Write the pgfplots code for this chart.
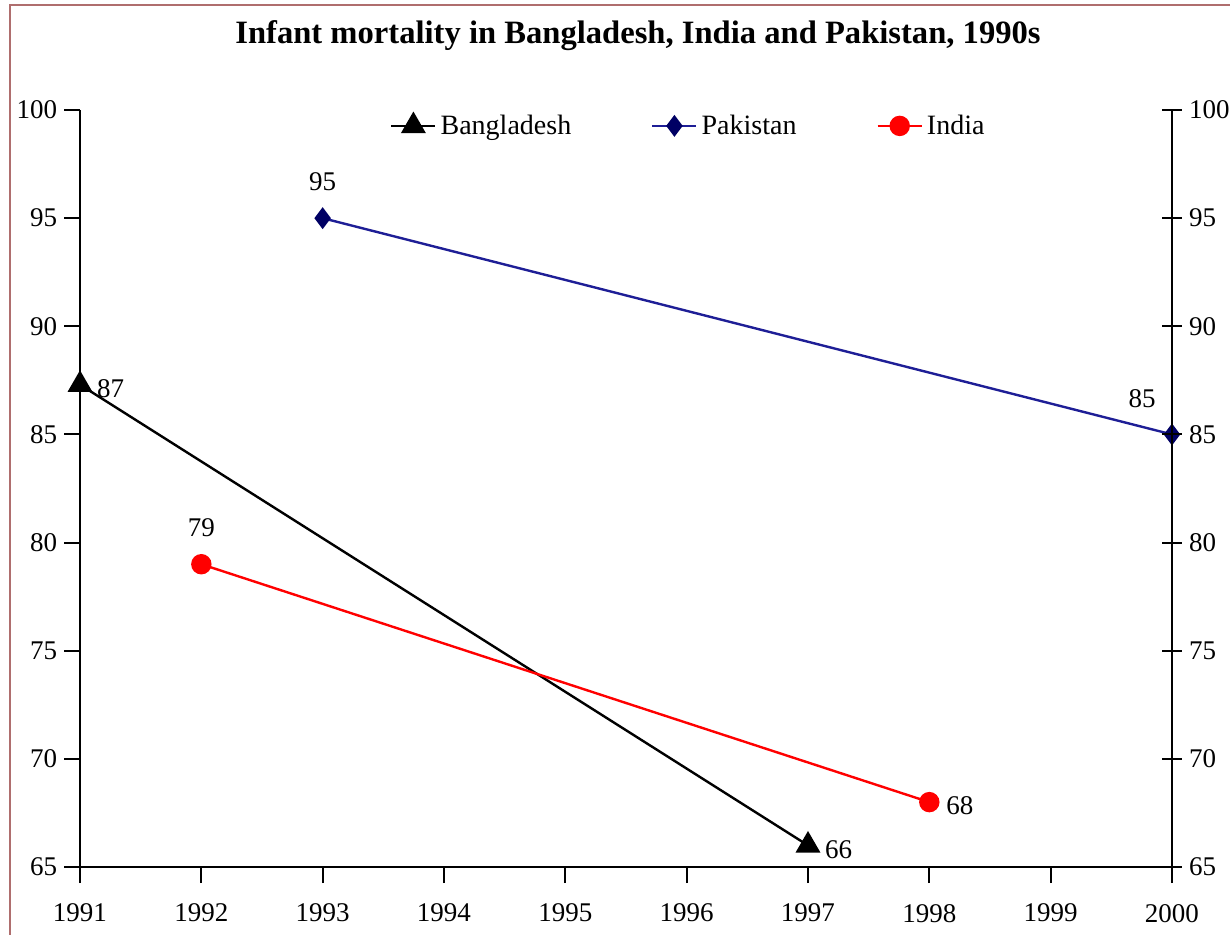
\documentclass[border=0pt]{standalone}
\usepackage{fontspec}
\setmainfont{Liberation Serif}
\usepackage{pgfplots}
\pgfplotsset{compat=1.18}
\definecolor{framec}{RGB}{175,110,110}
\definecolor{pakline}{RGB}{30,30,150}
\definecolor{pakmark}{RGB}{0,0,100}

\begin{document}
\begin{tikzpicture}
% page: 1230x934 px at 0.5pt per px, axis lower-left at px (80,867)
\path[use as bounding box] (-40pt,-33.5pt) rectangle (575pt,433.5pt);
\clip (-40pt,-33.5pt) rectangle (575pt,433.5pt);
\draw[framec, line width=1.2pt] (-35pt,-40pt) -- (-35pt,431pt) -- (580pt,431pt);

\begin{axis}[
    scale only axis,
    width=546pt, height=378.5pt,
    xmin=1991, xmax=2000,
    ymin=65, ymax=100,
    xtick={1991,...,2000},
    ytick={65,70,...,100},
    axis x line*=bottom,
    axis y line*=left,
    axis line style={line width=1pt},
    tick style={black, line width=1pt},
    major tick length=8pt,
    tick align=outside,
    /pgf/number format/1000 sep={},
    /pgf/number format/assume math mode=true,
    tick label style={font=\fontsize{13.5}{15}\selectfont},
    xticklabel style={yshift=-7pt},
    clip=false,
    title={Infant mortality in Bangladesh, India and Pakistan, 1990s},
    title style={font=\bfseries\fontsize{16.3}{19}\selectfont, at={(0.511,1.082)}, anchor=center},
    legend style={draw=none, fill=none, at={(0.558,0.979)}, anchor=center,
        legend columns=-1, font=\fontsize{14}{16}\selectfont,
        /tikz/every even column/.append style={column sep=38pt}},
    legend image code/.code={\draw[mark repeat=2,mark phase=2,#1]
        plot coordinates {(0pt,0pt) (11pt,0pt) (22pt,0pt)};},
    every node near coord/.style={font=\fontsize{13.5}{15}\selectfont, text=black},
]
\addplot[black, line width=1.2pt, mark=triangle*, mark size=6pt]
    coordinates {(1991,87.3) (1997,66)};
\addplot[pakline, line width=1.2pt, mark=diamond*, mark size=4.5pt,
    mark options={fill=pakmark, draw=pakmark}]
    coordinates {(1993,95) (2000,85)};
\addplot[red, line width=1.2pt, mark=*, mark size=4.5pt]
    coordinates {(1992,79) (1998,68)};
\legend{Bangladesh, Pakistan, India}

% data labels
\addplot[draw=none, forget plot, nodes near coords, point meta=explicit symbolic,
    every node near coord/.append style={anchor=west, xshift=5pt, yshift=-2pt}]
    coordinates {(1991,87.3)[87] (1997,66)[66] (1998,68)[68]};
\addplot[draw=none, forget plot, nodes near coords, point meta=explicit symbolic,
    every node near coord/.append style={anchor=south, yshift=10pt}]
    coordinates {(1993,95)[95] (1992,79)[79]};
\addplot[draw=none, forget plot, nodes near coords, point meta=explicit symbolic,
    every node near coord/.append style={anchor=south, xshift=-15pt, yshift=10pt}]
    coordinates {(2000,85)[85]};
\end{axis}

\begin{axis}[
    scale only axis,
    width=546pt, height=378.5pt,
    xmin=1991, xmax=2000,
    ymin=65, ymax=100,
    ytick={65,70,...,100},
    axis x line=none,
    axis y line*=right,
    axis line style={line width=1pt},
    tick style={black, line width=1pt},
    major tick length=10pt,
    tick align=center,
    /pgf/number format/assume math mode=true,
    yticklabel style={font=\fontsize{13.5}{15}\selectfont, xshift=0pt},
]
\addplot[draw=none] coordinates {(1991,65) (2000,100)};
\end{axis}
\end{tikzpicture}
\end{document}
